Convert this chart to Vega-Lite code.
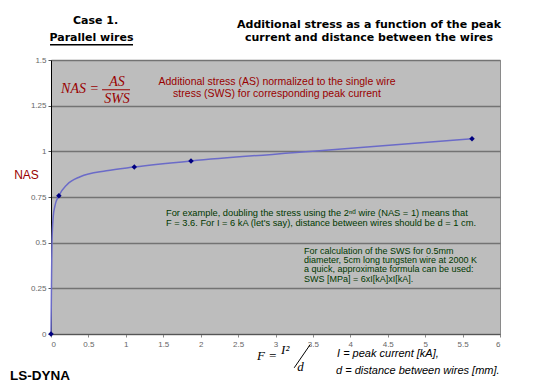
{
  "$schema": "https://vega.github.io/schema/vega-lite/v6.json",
  "width": 449,
  "height": 274,
  "autosize": "none",
  "padding": {"left": 51, "top": 60, "right": 52, "bottom": 50},
  "background": "white",
  "config": {
    "view": {"fill": "#BDBDBD", "stroke": "#8a8a8a", "strokeWidth": 1},
    "font": "Liberation Sans"
  },
  "datasets": {
    "curve": [
      {"F": 0, "NAS": 0},
      {"F": 0.006, "NAS": 0.25},
      {"F": 0.013, "NAS": 0.5},
      {"F": 0.03, "NAS": 0.644},
      {"F": 0.052, "NAS": 0.7},
      {"F": 0.105, "NAS": 0.757},
      {"F": 0.21, "NAS": 0.816},
      {"F": 0.39, "NAS": 0.861},
      {"F": 0.74, "NAS": 0.894},
      {"F": 1.113, "NAS": 0.914},
      {"F": 1.871, "NAS": 0.947},
      {"F": 3.5, "NAS": 1.0},
      {"F": 5.626, "NAS": 1.069}
    ],
    "points": [
      {"F": 0, "NAS": 0},
      {"F": 0.105, "NAS": 0.757},
      {"F": 1.113, "NAS": 0.914},
      {"F": 1.871, "NAS": 0.947},
      {"F": 5.626, "NAS": 1.069}
    ],
    "titles": [
      {"F": 0.595, "NAS": 1.713, "text": "Case 1."},
      {"F": 0.541, "NAS": 1.621, "text": "Parallel wires"},
      {"F": 4.25, "NAS": 1.689, "text": "Additional stress as a function of the peak"},
      {"F": 4.25, "NAS": 1.621, "text": "current and distance between the wires"}
    ],
    "underline": [
      {"F": -0.013, "NAS": 1.583, "F2": 1.096, "NAS2": 1.583}
    ],
    "red": [
      {"F": 3.02, "NAS": 1.378, "text": "Additional stress (AS) normalized to the single wire"},
      {"F": 3.02, "NAS": 1.316, "text": "stress (SWS) for corresponding peak current"}
    ],
    "nasformula": [
      {"F": 0.388, "NAS": 1.341, "text": "NAS ="},
      {"F": 0.882, "NAS": 1.382, "text": "AS"},
      {"F": 0.882, "NAS": 1.288, "text": "SWS"}
    ],
    "fraction": [
      {"F": 0.682, "NAS": 1.337, "F2": 1.056, "NAS2": 1.337}
    ],
    "green1": [
      {"F": 1.537, "NAS": 0.662, "text": "For example, doubling the stress using the 2ⁿᵈ wire (NAS = 1) means that"},
      {"F": 1.537, "NAS": 0.609, "text": "F = 3.6. For I = 6 kA (let's say), distance between wires should be d = 1 cm."}
    ],
    "green2": [
      {"F": 3.381, "NAS": 0.456, "text": "For calculation of the SWS for 0.5mm"},
      {"F": 3.381, "NAS": 0.405, "text": "diameter, 5cm long tungsten wire at 2000 K"},
      {"F": 3.381, "NAS": 0.354, "text": "a quick, approximate formula can be used:"},
      {"F": 3.381, "NAS": 0.303, "text": "SWS [MPa] = 6xI[kA]xI[kA]."}
    ],
    "fformula": [
      {"F": 2.887, "NAS": -0.123, "text": "F ="},
      {"F": 3.13, "NAS": -0.085, "text": "I²"},
      {"F": 3.334, "NAS": -0.183, "text": "d"}
    ],
    "slash": [
      {"F": 3.25, "NAS": -0.185, "F2": 3.46, "NAS2": -0.06}
    ],
    "legendtext": [
      {"F": 3.822, "NAS": -0.112, "text": "I = peak current [kA],"},
      {"F": 3.809, "NAS": -0.2, "text": "d = distance between wires [mm]."}
    ],
    "brand": [
      {"F": -0.548, "NAS": -0.232, "text": "LS-DYNA"}
    ]
  },
  "encoding": {
    "x": {
      "field": "F",
      "type": "quantitative",
      "scale": {"domain": [0, 6], "nice": false, "zero": false},
      "axis": {
        "values": [0, 0.5, 1, 1.5, 2, 2.5, 3, 3.5, 4, 4.5, 5, 5.5, 6],
        "format": ".1~f",
        "labelFontSize": 8,
        "labelColor": "#666666",
        "tickColor": "#888888",
        "tickSize": 3,
        "domainColor": "#555555",
        "grid": false,
        "title": null,
        "labelPadding": 3
      }
    },
    "y": {
      "field": "NAS",
      "type": "quantitative",
      "scale": {"domain": [0, 1.5], "nice": false, "zero": false},
      "axis": {
        "values": [0, 0.25, 0.5, 0.75, 1, 1.25, 1.5],
        "format": ".2~f",
        "labelFontSize": 8,
        "labelColor": "#666666",
        "tickColor": "#555555",
        "tickSize": 3,
        "domainColor": "#000000",
        "grid": true,
        "gridColor": "#737373",
        "gridWidth": 1.5,
        "title": "NAS",
        "titleAngle": 0,
        "titleColor": "#990000",
        "titleFontSize": 12,
        "titleFontWeight": "normal",
        "titleAlign": "center",
        "titleBaseline": "middle",
        "titleX": -25,
        "titleY": 114
      }
    }
  },
  "layer": [
    {
      "data": {"name": "curve"},
      "mark": {"type": "line", "interpolate": "monotone", "color": "#6B6BC8", "strokeWidth": 1.5}
    },
    {
      "data": {"name": "points"},
      "mark": {"type": "point", "shape": "diamond", "filled": true, "size": 30, "color": "#000080", "opacity": 1}
    },
    {
      "data": {"name": "titles"},
      "mark": {"type": "text", "font": "DejaVu Sans", "fontWeight": "bold", "fontSize": 11, "color": "#000000", "align": "center", "baseline": "middle"},
      "encoding": {"text": {"field": "text"}}
    },
    {
      "data": {"name": "underline"},
      "mark": {"type": "rule", "color": "#000000", "strokeWidth": 1.5},
      "encoding": {"x2": {"field": "F2"}, "y2": {"field": "NAS2"}}
    },
    {
      "data": {"name": "red"},
      "mark": {"type": "text", "fontSize": 10.5, "color": "#990000", "align": "center", "baseline": "middle"},
      "encoding": {"text": {"field": "text"}}
    },
    {
      "data": {"name": "nasformula"},
      "mark": {"type": "text", "font": "Liberation Serif", "fontStyle": "italic", "fontSize": 14, "color": "#990000", "align": "center", "baseline": "middle"},
      "encoding": {"text": {"field": "text"}}
    },
    {
      "data": {"name": "fraction"},
      "mark": {"type": "rule", "color": "#990000", "strokeWidth": 1},
      "encoding": {"x2": {"field": "F2"}, "y2": {"field": "NAS2"}}
    },
    {
      "data": {"name": "green1"},
      "mark": {"type": "text", "fontSize": 9.3, "color": "#003800", "align": "left", "baseline": "middle"},
      "encoding": {"text": {"field": "text"}}
    },
    {
      "data": {"name": "green2"},
      "mark": {"type": "text", "fontSize": 9, "color": "#003800", "align": "left", "baseline": "middle"},
      "encoding": {"text": {"field": "text"}}
    },
    {
      "data": {"name": "fformula"},
      "mark": {"type": "text", "font": "Liberation Serif", "fontStyle": "italic", "fontSize": 13, "color": "#000000", "align": "center", "baseline": "middle"},
      "encoding": {"text": {"field": "text"}}
    },
    {
      "data": {"name": "slash"},
      "mark": {"type": "rule", "color": "#000000", "strokeWidth": 1},
      "encoding": {"x2": {"field": "F2"}, "y2": {"field": "NAS2"}}
    },
    {
      "data": {"name": "legendtext"},
      "mark": {"type": "text", "fontStyle": "italic", "fontSize": 11, "color": "#000000", "align": "left", "baseline": "middle"},
      "encoding": {"text": {"field": "text"}}
    },
    {
      "data": {"name": "brand"},
      "mark": {"type": "text", "fontWeight": "bold", "fontSize": 13.5, "color": "#000000", "align": "left", "baseline": "middle"},
      "encoding": {"text": {"field": "text"}}
    }
  ]
}
